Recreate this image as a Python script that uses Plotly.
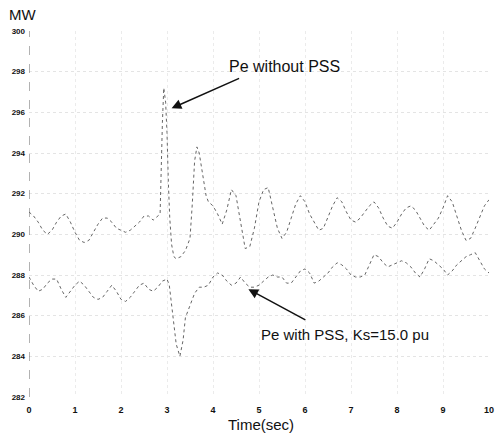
import plotly.graph_objects as go

# ---- data ----
t_without = [0.0, 0.1, 0.2, 0.3, 0.4, 0.5, 0.6, 0.7, 0.8, 0.9,
             1.0, 1.1, 1.2, 1.3, 1.4, 1.5, 1.6, 1.7, 1.8, 1.9,
             2.0, 2.1, 2.2, 2.3, 2.4, 2.5, 2.6, 2.7, 2.8, 2.85,
             2.9, 2.93, 2.97, 3.0, 3.03, 3.06, 3.1, 3.15, 3.2, 3.3,
             3.4, 3.5, 3.55, 3.6, 3.65, 3.7, 3.75, 3.8, 3.85, 3.9,
             4.0, 4.1, 4.2, 4.3, 4.4, 4.5, 4.6, 4.7, 4.8, 4.9,
             5.0, 5.1, 5.2, 5.3, 5.4, 5.5, 5.6, 5.7, 5.8, 5.9,
             6.0, 6.1, 6.2, 6.3, 6.4, 6.5, 6.6, 6.7, 6.8, 6.9,
             7.0, 7.1, 7.2, 7.3, 7.4, 7.5, 7.6, 7.7, 7.8, 7.9,
             8.0, 8.1, 8.2, 8.3, 8.4, 8.5, 8.6, 8.7, 8.8, 8.9,
             9.0, 9.1, 9.2, 9.3, 9.4, 9.5, 9.6, 9.7, 9.8, 9.9, 10.0]
pe_without = [291.1, 290.9, 290.6, 290.2, 290.0, 290.2, 290.6, 290.9, 291.0, 290.6,
              290.1, 289.7, 289.6, 289.7, 290.1, 290.5, 290.8, 290.8, 290.6, 290.3,
              290.2, 290.1, 290.2, 290.4, 290.6, 290.9, 290.9, 290.7, 290.9, 291.0,
              295.5, 297.2, 296.5, 295.0, 292.5, 290.8, 289.5, 288.9, 288.8, 288.9,
              289.2, 289.8, 291.5, 293.6, 294.3, 294.0, 293.3, 292.6, 291.9, 291.6,
              291.4, 291.0, 290.5, 291.2, 292.2, 291.9, 290.6, 289.3, 289.4, 290.3,
              291.6, 292.2, 292.3, 291.3, 290.3, 289.8, 290.1, 290.8, 291.5, 291.9,
              291.6, 291.0, 290.6, 290.2, 290.3, 290.9, 291.4, 291.8, 291.6, 291.1,
              290.7, 290.6, 290.8, 291.1, 291.4, 291.6, 291.3, 290.8, 290.4, 290.3,
              290.6, 291.0, 291.3, 291.4, 291.2, 290.8, 290.4, 290.2, 290.5, 290.8,
              291.3, 291.9, 291.6, 290.9, 290.2, 289.7, 289.8, 290.3, 290.9, 291.4, 291.7]

t_with = [0.0, 0.1, 0.2, 0.3, 0.4, 0.5, 0.6, 0.7, 0.8, 0.9,
          1.0, 1.1, 1.2, 1.3, 1.4, 1.5, 1.6, 1.7, 1.8, 1.9,
          2.0, 2.1, 2.2, 2.3, 2.4, 2.5, 2.6, 2.7, 2.8, 2.9,
          3.0, 3.05, 3.1, 3.15, 3.2, 3.28, 3.35, 3.4, 3.5, 3.6,
          3.7, 3.8, 3.9, 4.0, 4.1, 4.2, 4.3, 4.4, 4.5, 4.6,
          4.7, 4.8, 4.9, 5.0, 5.1, 5.2, 5.3, 5.4, 5.5, 5.6,
          5.7, 5.8, 5.9, 6.0, 6.1, 6.2, 6.3, 6.4, 6.5, 6.6,
          6.7, 6.8, 6.9, 7.0, 7.1, 7.2, 7.3, 7.4, 7.5, 7.6,
          7.7, 7.8, 7.9, 8.0, 8.1, 8.2, 8.3, 8.4, 8.5, 8.6,
          8.7, 8.8, 8.9, 9.0, 9.1, 9.2, 9.3, 9.4, 9.5, 9.6,
          9.7, 9.8, 9.9, 10.0]
pe_with = [287.9, 287.5, 287.2, 287.3, 287.6, 287.8, 287.8, 287.3, 286.9, 287.2,
           287.5, 287.7, 287.5, 287.2, 286.9, 286.8, 286.9, 287.2, 287.5, 287.2,
           286.8, 286.7, 286.9, 287.2, 287.5, 287.6, 287.3, 287.2, 287.4, 287.7,
           287.8, 287.5, 286.5, 285.4, 284.6, 284.0, 284.8, 285.9, 286.5, 287.1,
           287.4, 287.4, 287.5, 287.9, 288.1, 288.0, 287.7, 287.5, 287.6, 287.9,
           287.6, 287.4, 287.4, 287.5, 287.7, 287.9, 288.0, 287.9, 287.9, 287.6,
           287.6, 287.9, 288.2, 288.3, 288.1, 287.6, 287.7, 287.9, 288.1, 288.4,
           288.6, 288.5, 288.3, 288.0, 287.9, 287.9, 288.0, 288.5, 289.0, 288.9,
           288.6, 288.4, 288.5, 288.6, 288.7, 288.6, 288.4, 288.1, 287.9, 288.3,
           288.8, 288.7, 288.5, 288.3, 288.0, 288.2, 288.5, 288.7, 288.9, 289.0,
           289.1, 288.7, 288.3, 288.1]

x_ticks = [0, 1, 2, 3, 4, 5, 6, 7, 8, 9, 10]
y_ticks = [282, 284, 286, 288, 290, 292, 294, 296, 298, 300]

FONT = "Liberation Sans, Arial, sans-serif"
LINE = "#666666"

fig = go.Figure()
fig.add_trace(go.Scatter(x=t_without, y=pe_without, mode="lines",
                         line=dict(color=LINE, width=1, dash="dot"),
                         name="Pe without PSS", showlegend=False))
fig.add_trace(go.Scatter(x=t_with, y=pe_with, mode="lines",
                         line=dict(color=LINE, width=1, dash="dot"),
                         name="Pe with PSS", showlegend=False))

# dashed y-axis line at left
fig.add_shape(type="line", xref="x", yref="y", x0=0, x1=0, y0=282, y1=300,
              line=dict(color="#666", width=1, dash="dash"))

annotations = [
    # arrows (text-less)
    dict(x=3.10, y=296.2, ax=4.60, ay=297.7, xref="x", yref="y", axref="x", ayref="y",
         text="", showarrow=True, arrowhead=2, arrowsize=1.3, arrowwidth=1.5, arrowcolor="#111"),
    dict(x=4.77, y=287.3, ax=6.04, ay=285.75, xref="x", yref="y", axref="x", ayref="y",
         text="", showarrow=True, arrowhead=2, arrowsize=1.3, arrowwidth=1.5, arrowcolor="#111"),
    # labels
    dict(x=5.55, y=298.23, xref="x", yref="y", text="Pe without PSS", showarrow=False,
         font=dict(family=FONT, size=16, color="#111"), xanchor="center", yanchor="middle"),
    dict(x=6.88, y=285.06, xref="x", yref="y", text="Pe with PSS, Ks=15.0 pu", showarrow=False,
         font=dict(family=FONT, size=15, color="#111"), xanchor="center", yanchor="middle"),
    dict(x=-0.015, y=1.044, xref="paper", yref="paper", text="MW", showarrow=False,
         font=dict(family=FONT, size=15, color="#111"), xanchor="center", yanchor="middle"),
    dict(x=0.505, y=-0.074, xref="paper", yref="paper", text="Time(sec)", showarrow=False,
         font=dict(family=FONT, size=15, color="#111"), xanchor="center", yanchor="middle"),
]

fig.update_layout(
    width=500, height=439,
    margin=dict(l=29, r=6, t=31, b=42),
    paper_bgcolor="white", plot_bgcolor="white",
    annotations=annotations,
    showlegend=False,
)
fig.update_xaxes(range=[0, 10], tickvals=x_ticks, ticktext=[str(v) for v in x_ticks],
                 showline=False, zeroline=False, ticks="",
                 showgrid=True, gridcolor="#ebebeb", griddash="dot", gridwidth=1,
                 tickfont=dict(family=FONT, size=9, color="#111", weight="bold"),
                 ticklabelstandoff=6, ticklabeloverflow="allow")
fig.update_yaxes(range=[282, 300], tickvals=y_ticks, ticktext=[str(v) for v in y_ticks],
                 showline=False, zeroline=False, ticks="",
                 showgrid=True, gridcolor="#e4e4e4", griddash="dot", gridwidth=1,
                 tickfont=dict(family=FONT, size=8, color="#111", weight="bold"),
                 ticklabelstandoff=3)

fig.write_html("out.html", config={"displayModeBar": False},
               post_script="document.body.style.margin='0';document.body.style.padding='0';")
